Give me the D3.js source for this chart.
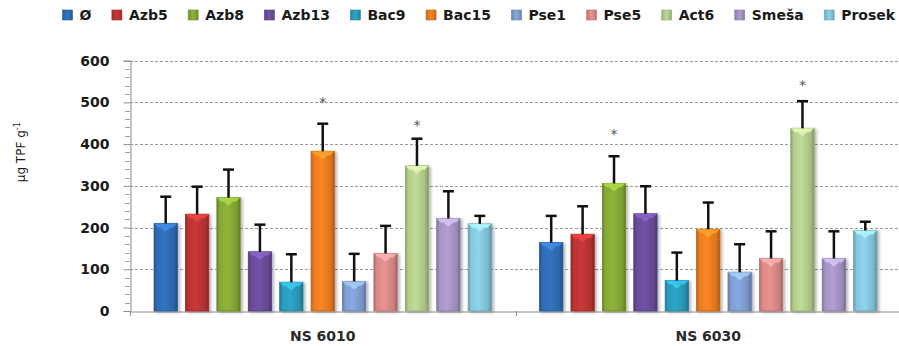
<!DOCTYPE html>
<html><head><meta charset="utf-8">
<script src="https://cdn.jsdelivr.net/npm/d3@7"></script>
<style>
html,body{margin:0;padding:0;background:#fff;overflow:hidden}
svg{display:block}
text{font-family:"DejaVu Sans",sans-serif}
</style></head>
<body>
<svg id="c" width="899" height="346"></svg>
<script>
const categories = ["NS 6010", "NS 6030"];
const seriesNames = ["Ø","Azb5","Azb8","Azb13","Bac9","Bac15","Pse1","Pse5","Act6","Smeša","Prosek"];
const seriesColors = ["#2f6cb4","#bb3433","#85a835","#6a4c9a","#2a9bbb","#ea7d1f","#7f9dd2","#d98987","#b3cd8c","#a594c4","#84c6dc"];
const valuesNS6010 = [210, 232, 272, 142, 69, 383, 71, 138, 348, 222, 209];
const errorsNS6010 = [64, 66, 67, 65, 67, 66, 66, 66, 65, 65, 19];
const valuesNS6030 = [164, 184, 306, 233, 73, 196, 93, 126, 438, 126, 193];
const errorsNS6030 = [64, 67, 65, 66, 67, 64, 67, 65, 65, 65, 21];
const starsNS6010 = [null, null, null, null, null, 504, null, null, 449, null, null];
const starsNS6030 = [null, null, 427, null, null, null, null, null, 544, null, null];
const yTicks = [0, 100, 200, 300, 400, 500, 600];

const data = categories.map((c, ci) => ({
  cat: c,
  vals: (ci === 0 ? valuesNS6010 : valuesNS6030),
  errs: (ci === 0 ? errorsNS6010 : errorsNS6030),
  stars: (ci === 0 ? starsNS6010 : starsNS6030)
}));

const svg = d3.select("#c");
const pLeft = 130, pRight = 901, pTop = 60.7, pBottom = 311;

const y = d3.scaleLinear().domain([0, 600]).range([pBottom, pTop]);
const x0 = d3.scaleBand().domain(categories).range([pLeft, pRight]).padding(0);
const bw0 = x0.bandwidth();
const x1 = d3.scaleBand().domain(seriesNames).range([20, bw0 - 20]).paddingInner(8/31).paddingOuter(4/31);

// gradients
const defs = svg.append("defs");
seriesColors.forEach((col, i) => {
  const c = d3.color(col);
  const g = defs.append("linearGradient").attr("id", "g" + i).attr("x1", 0).attr("x2", 1).attr("y1", 0).attr("y2", 0);
  g.append("stop").attr("offset", 0).attr("stop-color", c.darker(0.7));
  g.append("stop").attr("offset", 0.12).attr("stop-color", c);
  g.append("stop").attr("offset", 0.45).attr("stop-color", c.brighter(0.2));
  g.append("stop").attr("offset", 0.85).attr("stop-color", c.darker(0.2));
  g.append("stop").attr("offset", 1).attr("stop-color", c.darker(0.9));
  const lg = defs.append("linearGradient").attr("id", "l" + i).attr("x1", 0).attr("x2", 1).attr("y1", 0).attr("y2", 0);
  lg.append("stop").attr("offset", 0).attr("stop-color", c.darker(0.4));
  lg.append("stop").attr("offset", 0.5).attr("stop-color", c.brighter(0.2));
  lg.append("stop").attr("offset", 1).attr("stop-color", c.darker(0.5));
});
const sh = defs.append("filter").attr("id", "sh").attr("x", "-20%").attr("y", "-10%").attr("width", "150%").attr("height", "130%");
sh.append("feGaussianBlur").attr("in", "SourceAlpha").attr("stdDeviation", 1.5).attr("result", "b");
sh.append("feOffset").attr("in", "b").attr("dx", 2).attr("dy", 1).attr("result", "o");
sh.append("feComponentTransfer").attr("in", "o").attr("result", "o2").append("feFuncA").attr("type", "linear").attr("slope", 0.3);
const fm = sh.append("feMerge");
fm.append("feMergeNode").attr("in", "o2");
fm.append("feMergeNode").attr("in", "SourceGraphic");

// gridlines
svg.append("g").selectAll("line").data(yTicks.filter(t => t > 0)).join("line")
  .attr("x1", pLeft).attr("x2", pRight).attr("y1", d => Math.round(y(d)) + 0.5).attr("y2", d => Math.round(y(d)) + 0.5)
  .attr("stroke", "#9a9a9a").attr("stroke-width", 1).attr("stroke-dasharray", "3,2");

// y axis
const yAxis = d3.axisLeft(y).tickValues(yTicks).tickSize(7).tickPadding(14).tickFormat(d3.format("d"));
const ya = svg.append("g").attr("transform", `translate(${pLeft + 0.5},0)`).call(yAxis);
ya.select(".domain").attr("stroke", "#8c8c8c");
ya.selectAll(".tick line").attr("stroke", "#8c8c8c");
ya.selectAll(".tick text").attr("font-family", "DejaVu Sans").attr("font-weight", "bold").attr("font-size", 14).attr("fill", "#1a1a1a");
// minor ticks
const minor = d3.range(0, 601, 20).filter(v => v % 100 !== 0);
svg.append("g").selectAll("line").data(minor).join("line")
  .attr("x1", pLeft - 5).attr("x2", pLeft).attr("y1", d => Math.round(y(d)) + 0.5).attr("y2", d => Math.round(y(d)) + 0.5)
  .attr("stroke", "#a0a0a0");

// x axis
const xAxis = d3.axisBottom(x0).tickSize(0).tickPadding(20);
const xa = svg.append("g").attr("transform", `translate(0,${pBottom + 0.5})`).call(xAxis);
xa.select(".domain").attr("stroke", "#8c8c8c");
xa.selectAll(".tick text").attr("font-family", "DejaVu Sans").attr("font-weight", "bold").attr("font-size", 14).attr("fill", "#2a2a2a");
// category separator tick
svg.append("line").attr("x1", Math.round(x0(categories[1])) + 0.5).attr("x2", Math.round(x0(categories[1])) + 0.5)
  .attr("y1", pBottom).attr("y2", pBottom + 5).attr("stroke", "#8c8c8c");
svg.append("line").attr("x1", pLeft + 0.5).attr("x2", pLeft + 0.5)
  .attr("y1", pBottom).attr("y2", pBottom + 5).attr("stroke", "#8c8c8c");

// bars
const bw = x1.bandwidth();
const groups = svg.append("g").selectAll("g").data(data).join("g")
  .attr("transform", d => `translate(${x0(d.cat)},0)`);

const items = groups.selectAll("g.bar").data(d => d.vals.map((v, i) => ({ v, e: d.errs[i], s: d.stars[i], i }))).join("g").attr("class", "bar");

items.append("rect")
  .attr("x", d => x1(seriesNames[d.i]))
  .attr("y", d => y(d.v))
  .attr("width", bw)
  .attr("height", d => y(0) - y(d.v))
  .attr("fill", d => `url(#g${d.i})`)
  .attr("stroke", d => d3.color(seriesColors[d.i]).darker(0.6))
  .attr("stroke-width", 0.8)
  .attr("filter", "url(#sh)");
// top bevel highlight
items.append("path")
  .attr("d", d => {
    const xs = x1(seriesNames[d.i]), yt = y(d.v);
    return `M${xs},${yt} L${xs + bw},${yt} L${xs + bw - 4},${yt + 4} L${xs + 4},${yt + 4} Z`;
  })
  .attr("fill", d => d3.color(seriesColors[d.i]).brighter(0.8))
  .attr("opacity", 0.8);
items.append("path")
  .attr("d", d => {
    const xs = x1(seriesNames[d.i]), yt = y(d.v);
    return `M${xs + bw / 2 - 5},${yt + 4} L${xs + bw / 2 + 5},${yt + 4} L${xs + bw / 2},${yt + 8} Z`;
  })
  .attr("fill", d => d3.color(seriesColors[d.i]).brighter(1.3))
  .attr("opacity", 0.5);

// error bars
items.append("line")
  .attr("x1", d => x1(seriesNames[d.i]) + bw / 2).attr("x2", d => x1(seriesNames[d.i]) + bw / 2)
  .attr("y1", d => y(d.v)).attr("y2", d => y(d.v + d.e))
  .attr("stroke", "#111").attr("stroke-width", 2.5);
items.append("line")
  .attr("x1", d => x1(seriesNames[d.i]) + bw / 2 - 5.5).attr("x2", d => x1(seriesNames[d.i]) + bw / 2 + 5.5)
  .attr("y1", d => y(d.v + d.e)).attr("y2", d => y(d.v + d.e))
  .attr("stroke", "#111").attr("stroke-width", 2.5);

// stars
items.filter(d => d.s != null).append("text")
  .attr("x", d => x1(seriesNames[d.i]) + bw / 2)
  .attr("y", d => y(d.s) + 6)
  .attr("text-anchor", "middle")
  .attr("font-size", 14).attr("fill", "#555")
  .text("*");

// y title
svg.append("text")
  .attr("transform", "translate(25,152) rotate(-90)")
  .attr("text-anchor", "middle")
  .attr("font-size", 12).attr("fill", "#1a1a1a")
  .call(t => {
    t.append("tspan").text("µg TPF g");
    t.append("tspan").attr("font-size", 8.5).attr("dy", -5).text("-1");
  });

// legend
const lg = svg.append("g").attr("transform", "translate(62.5,15)");
let lx = 0;
seriesNames.forEach((n, i) => {
  const it = lg.append("g").attr("transform", `translate(${lx},0)`);
  it.append("rect").attr("x", 0).attr("y", -5).attr("width", 10).attr("height", 10)
    .attr("fill", `url(#l${i})`).attr("stroke", d3.color(seriesColors[i]).darker(0.5)).attr("stroke-width", 0.6);
  const t = it.append("text").attr("x", 17).attr("y", 5).attr("font-weight", "bold").attr("font-size", 14).attr("fill", "#1a1a1a").text(n);
  const w = t.node().getComputedTextLength();
  lx += 17 + w + 20.5;
});
</script>
</body></html>
